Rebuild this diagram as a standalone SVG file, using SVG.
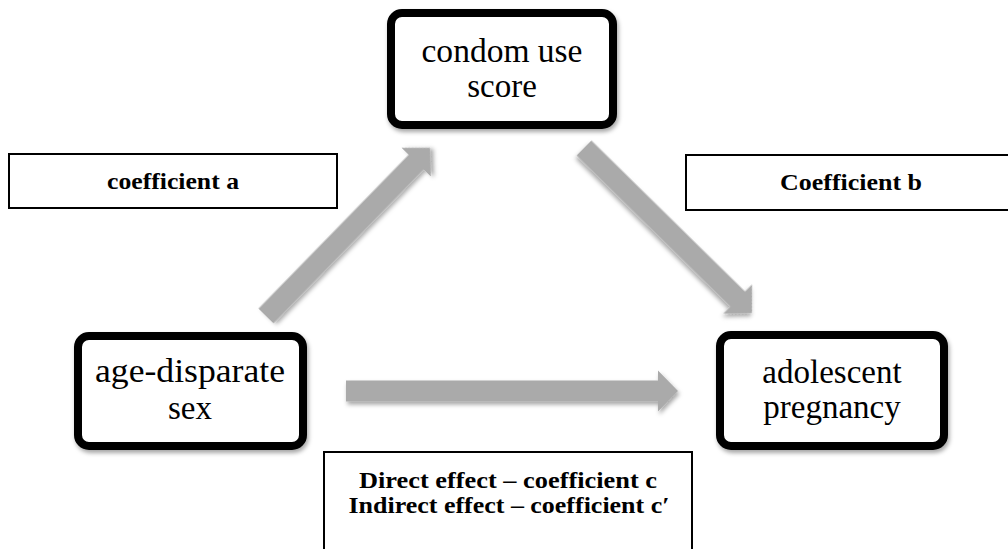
<svg xmlns="http://www.w3.org/2000/svg" width="1008" height="549" viewBox="0 0 1008 549">
<defs>
<style>
.node{fill:#fff;stroke:#000;stroke-width:8;filter:url(#sh)}
.ntext{font-family:"Liberation Serif","Times New Roman",serif;font-size:33px;fill:#000;text-anchor:middle}
.lbl{fill:#fff;stroke:#000;stroke-width:2}
.ltext{font-family:"Liberation Serif","Times New Roman",serif;font-size:24px;font-weight:bold;fill:#000;text-anchor:middle}
.arrow{fill:#aaaaaa;filter:url(#sh)}
</style>
<filter id="sh" x="-20%" y="-20%" width="140%" height="160%">
<feDropShadow dx="1.5" dy="3" stdDeviation="2" flood-color="#000" flood-opacity="0.35"/>
</filter>
</defs>
<rect width="1008" height="549" fill="#fff"/>
<g id="connectors">
<path class="arrow" transform="translate(346,391)" d="M0,-10.5 H312 V-20.5 L332,0 L312,20.5 V10.5 H0 Z"/>
<path class="arrow" transform="translate(266,316) rotate(-45.7)" d="M0,-10.5 H215 V-20.5 L235,0 L215,20.5 V10.5 H0 Z"/>
<path class="arrow" transform="translate(584,148) rotate(44.5)" d="M0,-10.5 H215.5 V-20.5 L235.5,0 L215.5,20.5 V10.5 H0 Z"/>
</g>
<g id="node-condom">
<rect class="node" x="391" y="13" width="222" height="112" rx="11"/>
<text class="ntext" x="502" y="62" textLength="161" lengthAdjust="spacingAndGlyphs">condom use</text>
<text class="ntext" x="502" y="97">score</text>
</g>
<g id="node-age">
<rect class="node" x="78" y="336" width="225" height="110" rx="11"/>
<text class="ntext" x="190" y="382" textLength="190" lengthAdjust="spacingAndGlyphs">age-disparate</text>
<text class="ntext" x="190" y="419">sex</text>
</g>
<g id="node-adolescent">
<rect class="node" x="720" y="335" width="224" height="111" rx="11"/>
<text class="ntext" x="832" y="383">adolescent</text>
<text class="ntext" x="832" y="418">pregnancy</text>
</g>
<g id="label-a">
<rect class="lbl" x="9" y="154" width="328" height="54"/>
<text class="ltext" x="173" y="189" textLength="132" lengthAdjust="spacingAndGlyphs">coefficient a</text>
</g>
<g id="label-b">
<rect class="lbl" x="686" y="155" width="340" height="55"/>
<text class="ltext" x="851" y="190" textLength="142" lengthAdjust="spacingAndGlyphs">Coefficient b</text>
</g>
<g id="label-c">
<rect class="lbl" x="324" y="452" width="368" height="120"/>
<text class="ltext" x="508" y="488" textLength="298" lengthAdjust="spacingAndGlyphs">Direct effect – coefficient c</text>
<text class="ltext" x="509" y="513" textLength="321" lengthAdjust="spacingAndGlyphs">Indirect effect – coefficient c′</text>
</g>
</svg>
